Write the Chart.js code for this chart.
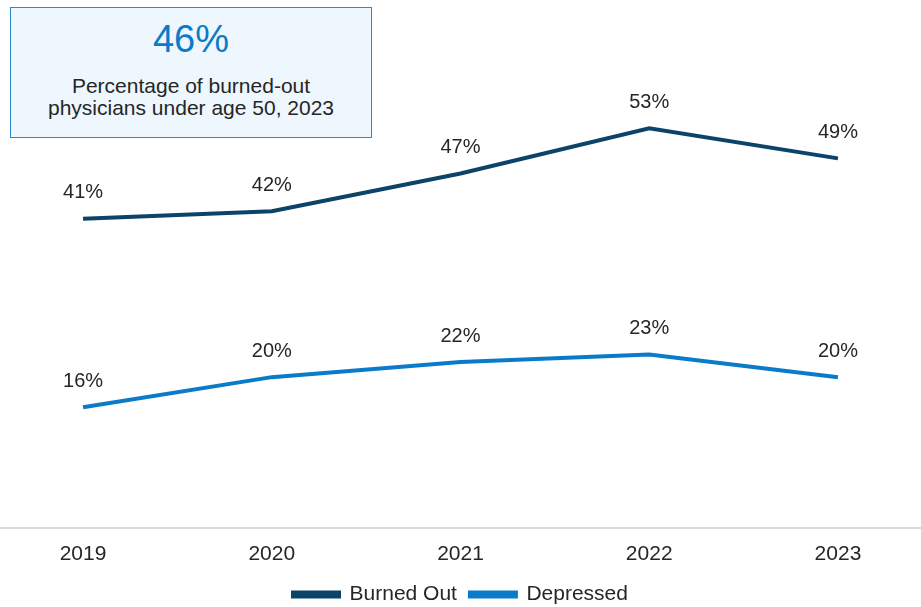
<!DOCTYPE html>
<html>
<head>
<meta charset="utf-8">
<script src="https://cdn.jsdelivr.net/npm/chart.js@4/dist/chart.umd.min.js"></script>
<style>
  html, body { margin: 0; padding: 0; background: #fff; overflow: hidden; }
  #wrap { position: relative; width: 921px; height: 607px; overflow: hidden; }
  #callout {
    position: absolute; left: 10px; top: 7px; width: 360px; height: 129px;
    background: #eef7fe; border: 1px solid #2a8ad0;
    font-family: "Liberation Sans", Arial, sans-serif; text-align: center; color: #262626;
  }
  #callout .big { font-size: 38px; color: #0a7bc9; margin-top: 11px; line-height: 40px; }
  #callout .sub { font-size: 21px; line-height: 22px; margin-top: 16px; }
</style>
</head>
<body>
<div id="wrap">
  <canvas id="chart" width="921" height="615"></canvas>
  <div id="callout">
    <div class="big">46%</div>
    <div class="sub">Percentage of burned-out<br>physicians under age 50, 2023</div>
  </div>
</div>
<script>
const years = ['2019', '2020', '2021', '2022', '2023'];
const burnedOut = [41, 42, 47, 53, 49];
const depressed = [16, 20, 22, 23, 20];

const FONT = '"Liberation Sans", Arial, sans-serif';

// labels above each point
const pointLabels = {
  id: 'pointLabels',
  afterDatasetsDraw(chart) {
    const ctx = chart.ctx;
    ctx.save();
    ctx.font = '20px ' + FONT;
    ctx.fillStyle = '#262626';
    ctx.textAlign = 'center';
    ctx.textBaseline = 'middle';
    chart.data.datasets.forEach((ds, i) => {
      chart.getDatasetMeta(i).data.forEach((pt, j) => {
        ctx.fillText(ds.data[j].y + '%', pt.x, pt.y - 26);
      });
    });
    ctx.restore();
  }
};

const toPoints = arr => arr.map((v, i) => ({ x: i, y: v }));

new Chart(document.getElementById('chart'), {
  type: 'line',
  data: {
    datasets: [
      { label: 'Burned Out', data: toPoints(burnedOut), borderColor: '#0b4468', backgroundColor: '#0b4468', borderWidth: 4, pointRadius: 0, tension: 0 },
      { label: 'Depressed', data: toPoints(depressed), borderColor: '#0a7bc9', backgroundColor: '#0a7bc9', borderWidth: 4, pointRadius: 0, tension: 0 }
    ]
  },
  options: {
    responsive: false,
    animation: false,
    layout: { padding: 0 },
    scales: {
      x: {
        type: 'linear', min: -0.44, max: 4.44,
        afterFit: s => { s.height = 43; },
        grid: { display: false, drawTicks: false },
        border: { display: true, color: '#d9d9d9', width: 2 },
        ticks: {
          stepSize: 1, includeBounds: false, padding: 14,
          color: '#262626', font: { family: FONT, size: 21 },
          callback: v => (Number.isInteger(v) && years[v]) ? years[v] : ''
        }
      },
      y: { display: false, min: 0, max: 70 }
    },
    plugins: {
      legend: {
        position: 'bottom',
        labels: {
          boxWidth: 46, boxHeight: 4, padding: 13,
          color: '#262626', font: { family: FONT, size: 21 }
        }
      },
      tooltip: { enabled: false }
    }
  },
  plugins: [pointLabels]
});
</script>
</body>
</html>
